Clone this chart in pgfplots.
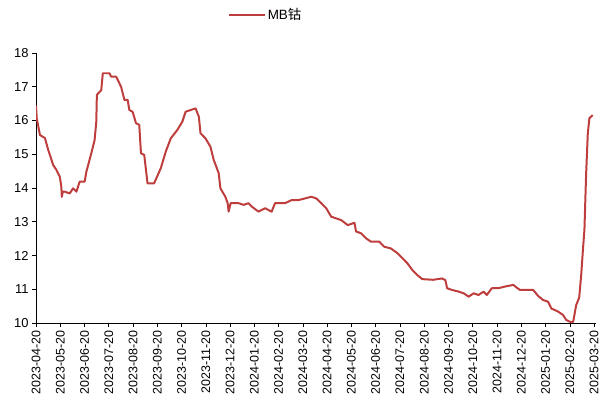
\documentclass[border=0pt]{standalone}
\usepackage{fontspec}
\setmainfont{Liberation Sans}
\newfontfamily\cjk{Noto Sans CJK SC}
\usepackage{pgfplots}
\pgfplotsset{compat=1.18}
\definecolor{mbred}{RGB}{190,62,62}

\begin{document}
\begin{tikzpicture}
\begin{axis}[
    at={(0,0)}, anchor=origin,
    scale only axis,
    width=560bp, height=270bp,
    xmin=0, xmax=23.08,
    ymin=10, ymax=18,
    axis x line*=bottom,
    axis y line*=left,
    axis line style={black, line width=0.6pt},
    ytick={10,11,...,18},
    xtick={0,1,...,23},
    xticklabels={2023-04-20,2023-05-20,2023-06-20,2023-07-20,2023-08-20,2023-09-20,2023-10-20,2023-11-20,2023-12-20,2024-01-20,2024-02-20,2024-03-20,2024-04-20,2024-05-20,2024-06-20,2024-07-20,2024-08-20,2024-09-20,2024-10-20,2024-11-20,2024-12-20,2025-01-20,2025-02-20,2025-03-20},
    x tick label style={rotate=90, anchor=east, font=\fontsize{12.5}{14}\selectfont},
    y tick label style={font=\fontsize{13}{15}\selectfont},
    /pgf/number format/assume math mode=true,
    tick align=outside,
    major tick length=4bp,
    tick style={black, line width=0.6pt},
    legend style={draw=none, at={(0.41,1.141)}, anchor=center, font=\fontsize{13.5}{15}\selectfont},
    legend image code/.code={\draw[#1] (0bp,0bp) -- (36bp,0bp);},
]
\addplot[mbred, line width=2pt, mark=none, line join=round] coordinates {
(0,16.45) (0.029,16.07) (0.164,15.57) (0.368,15.48) (0.503,15.13) (0.573,14.98)
(0.708,14.68) (0.847,14.53) (0.982,14.33) (1.044,14.04) (1.064,13.74) (1.105,13.89)
(1.187,13.89) (1.391,13.84) (1.527,13.99) (1.666,13.89) (1.801,14.19) (2.006,14.19)
(2.075,14.48) (2.280,15.03) (2.415,15.42) (2.484,15.96) (2.509,16.76) (2.689,16.90)
(2.754,17.40) (3.028,17.40) (3.098,17.30) (3.303,17.30) (3.507,17.00) (3.643,16.61)
(3.777,16.61) (3.847,16.31) (3.982,16.26) (4.121,15.92) (4.256,15.87) (4.326,15.03)
(4.461,14.98) (4.596,14.14) (4.870,14.14) (5.144,14.59) (5.349,15.08) (5.553,15.47)
(5.824,15.72) (6.028,15.96) (6.167,16.26) (6.372,16.31) (6.577,16.36) (6.712,16.11)
(6.781,15.62) (6.986,15.47) (7.191,15.22) (7.326,14.83) (7.530,14.44) (7.600,13.99)
(7.804,13.74) (7.899,13.55) (7.939,13.30) (8.021,13.55) (8.349,13.55) (8.553,13.50)
(8.758,13.55) (8.893,13.45) (9.167,13.30) (9.441,13.40) (9.712,13.30) (9.851,13.55)
(10.260,13.55) (10.530,13.64) (10.804,13.64) (11.078,13.69) (11.348,13.74) (11.553,13.69)
(11.758,13.55) (11.962,13.40) (12.167,13.15) (12.372,13.10) (12.576,13.05) (12.850,12.90)
(13.125,12.97) (13.190,12.71) (13.395,12.66) (13.599,12.51) (13.804,12.41) (14.148,12.41)
(14.352,12.26) (14.622,12.21) (14.897,12.07) (15.101,11.92) (15.306,11.77) (15.511,11.57)
(15.715,11.42) (15.920,11.30) (16.370,11.28) (16.738,11.32) (16.873,11.27) (16.943,11.03)
(17.147,10.98) (17.422,10.93) (17.626,10.88) (17.831,10.78) (18.036,10.88) (18.240,10.83)
(18.445,10.93) (18.580,10.83) (18.785,11.03) (19.059,11.03) (19.329,11.08) (19.673,11.13)
(19.808,11.05) (19.943,10.98) (20.491,10.98) (20.696,10.80) (20.900,10.68) (21.105,10.63)
(21.240,10.43) (21.514,10.34) (21.719,10.24) (21.854,10.09) (22.058,10.02) (22.140,10.04)
(22.263,10.53) (22.386,10.75) (22.468,11.40) (22.550,12.26) (22.603,12.76) (22.672,14.40)
(22.742,15.62) (22.808,16.07) (22.947,16.16)
};
\addlegendentry{MB{\cjk 钴}}
\end{axis}
\pgfresetboundingbox
\path (-36bp,-94bp) rectangle (566bp,323bp);
\end{tikzpicture}
\end{document}
